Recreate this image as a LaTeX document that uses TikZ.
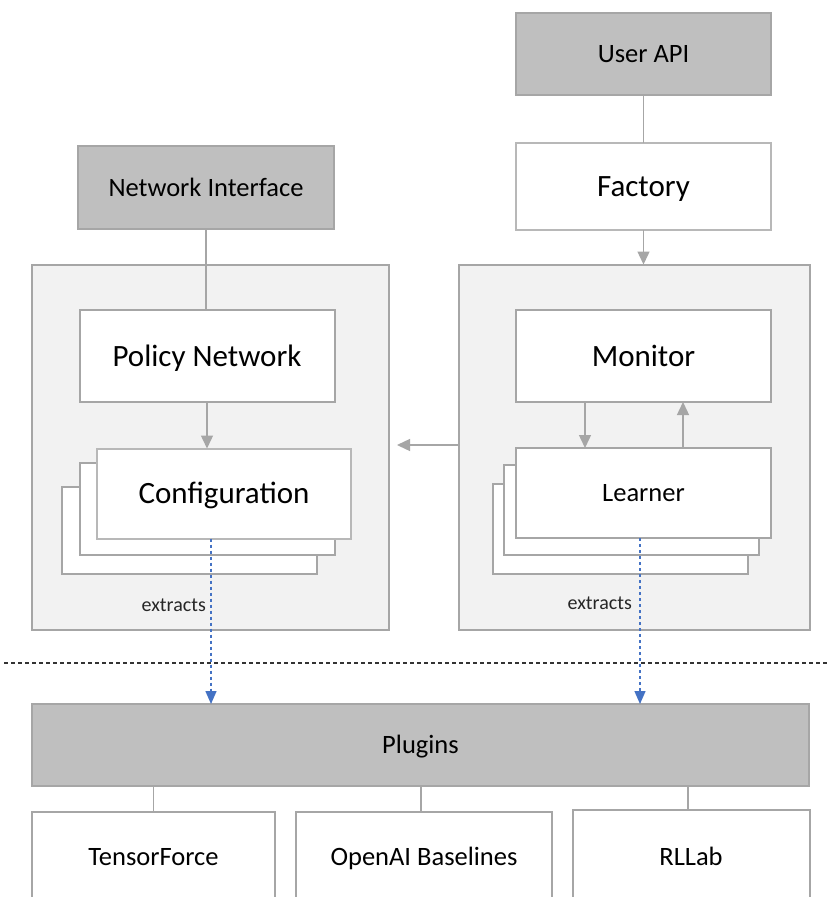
\documentclass[tikz,border=0pt]{standalone}
\usepackage{fontspec}
\setmainfont{Carlito}
\usetikzlibrary{arrows.meta,calc}
\definecolor{boxgray}{HTML}{BFBFBF}
\definecolor{edgegray}{HTML}{A6A6A6}
\definecolor{panel}{HTML}{F2F2F2}
\definecolor{linkblue}{HTML}{4472C4}
\begin{document}
\begin{tikzpicture}[x=1pt,y=-1pt,
  base/.style={draw=edgegray,line width=2pt,inner sep=0pt,outer sep=0pt,text=black,
    text height=17pt,text depth=0pt},
  graybox/.style={base,fill=boxgray,font=\fontsize{26.5}{30}\selectfont},
  whitebox/.style={base,fill=white,font=\fontsize{26.5}{30}\selectfont},
  bigbox/.style={base,fill=white,font=\fontsize{31}{36}\selectfont,text height=20pt},
  panelbox/.style={base,fill=panel},
  conn/.style={draw=edgegray,line width=1.4pt},
  arr/.style={conn,-{Triangle[width=12pt,length=13pt]}},
  dotlink/.style={draw=linkblue,line width=1.4pt,dash pattern=on 3pt off 3pt,
    -{Triangle[width=11pt,length=13pt,fill=linkblue]}},
  sepline/.style={draw=black!80,line width=1.2pt,dash pattern=on 4pt off 3pt},
  lbl/.style={inner sep=0pt,font=\fontsize{20}{24}\selectfont,text=black!85},
  itemlbl/.style={inner sep=0pt,font=\fontsize{26.5}{30}\selectfont,text=black,
    text height=17pt,text depth=0pt}]
\useasboundingbox (0,0) rectangle (830,897);
\clip (0,0) rectangle (830,897);
\fill[white] (0,0) rectangle (830,897);

% top row
\node[graybox,minimum width=255pt,minimum height=82pt] (userapi) at (643.5,54) {User API};
\node[bigbox,draw=edgegray!80,minimum width=255pt,minimum height=87pt] (factory) at (643.5,186.5) {Factory};
\node[graybox,minimum width=256pt,minimum height=83pt] (netif) at (206,187.5) {Network Interface};

% containers
\node[panelbox,minimum width=357pt,minimum height=365pt] (leftc) at (210.5,447) {};
\node[panelbox,minimum width=351pt,minimum height=365pt] (rightc) at (634.5,447) {};

% left container content
\node[bigbox,minimum width=255pt,minimum height=92pt] (policy) at (207,356) {Policy Network};
\node[whitebox,minimum width=255pt,minimum height=87pt] (cfgback) at (189.5,530.5) {};
\node[whitebox,minimum width=255pt,minimum height=92pt] (cfgmid) at (207,509) {};
\node[bigbox,draw=edgegray!80,minimum width=254pt,minimum height=90pt] (cfgfront) at (224,493.5) {Configuration};

% right container content
\node[bigbox,minimum width=255pt,minimum height=92pt] (monitor) at (643.5,356) {Monitor};
\node[whitebox,minimum width=255pt,minimum height=90pt] (lback) at (620.5,529) {};
\node[whitebox,minimum width=255pt,minimum height=90pt] (lmid) at (631.5,510) {};
\node[whitebox,minimum width=255pt,minimum height=90pt] (lfront) at (643.5,493) {Learner};

% plugins
\node[graybox,minimum width=777pt,minimum height=82pt] (plugins) at (420.5,745) {Plugins};
\node[whitebox,minimum width=243pt,minimum height=96pt] (tf) at (153.5,860) {};
\node[whitebox,minimum width=256pt,minimum height=96pt] (oab) at (424,860) {};
\node[whitebox,minimum width=237pt,minimum height=98pt] (rll) at (691,859) {};
\node[itemlbl] (tft) at (153.5,857) {TensorForce};
\node[itemlbl] (oabt) at (424,857) {OpenAI Baselines};
\node[itemlbl] (rllt) at (691,857) {RLLab};

% connectors
\draw[conn] (userapi.south) -- (factory.north);
\draw[conn] (netif.south) -- (netif.south |- policy.north);
\draw[arr] (factory.south) -- (factory.south |- rightc.north);
\draw[arr] (policy.south) -- (policy.south |- cfgfront.north);
\draw[arr] ([yshift=2pt]rightc.west) -- ([xshift=8pt,yshift=2pt]leftc.east);
\draw[arr] ([xshift=-58.5pt]monitor.south) -- ([xshift=-58.5pt]lfront.north);
\draw[arr] ([xshift=39.5pt]lfront.north) -- ([xshift=39.5pt]monitor.south);

% separator
\coordinate (sepL) at (4,663);
\coordinate (sepR) at (830,663);
\draw[sepline] (sepL) -- (sepR);

% extraction links
\coordinate (dA) at ([xshift=-13pt]cfgfront.south);
\coordinate (dB) at ([xshift=-3.5pt]lfront.south);
\draw[dotlink] (dA) -- (dA |- plugins.north);
\draw[dotlink] (dB) -- (dB |- plugins.north);
\node[lbl,anchor=east] (exA) at (206,605) {extracts};
\node[lbl,anchor=east] (exB) at (632,603) {extracts};

% plugin links
\draw[conn] (plugins.south -| tf.north) -- (tf.north);
\draw[conn] (plugins.south -| oab.north) ++(-3,0) -- ++(0,26);
\draw[conn] (plugins.south -| rll.north) ++(-3,0) -- ++(0,24);
\end{tikzpicture}
\end{document}
